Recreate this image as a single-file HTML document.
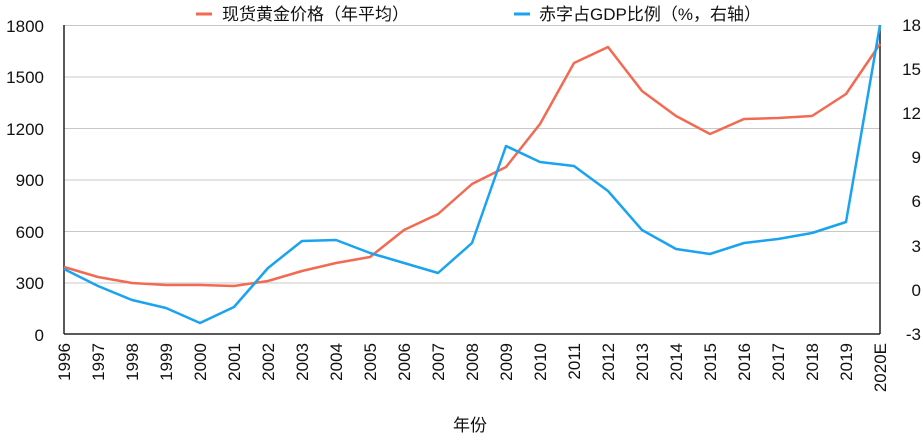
<!DOCTYPE html>
<html><head><meta charset="utf-8"><style>body{margin:0;background:#fff}svg{display:block}text{font-family:"Liberation Sans","Noto Sans CJK SC",sans-serif;fill:#111}</style></head><body>
<svg width="923" height="440" xmlns="http://www.w3.org/2000/svg">
<g stroke="#c8c8c8" stroke-width="1">
<line x1="64" y1="25.5" x2="880" y2="25.5"/><line x1="64" y1="77" x2="880" y2="77"/><line x1="64" y1="128.5" x2="880" y2="128.5"/><line x1="64" y1="180" x2="880" y2="180"/><line x1="64" y1="231.5" x2="880" y2="231.5"/><line x1="64" y1="283" x2="880" y2="283"/>
</g>
<line x1="64" y1="25" x2="64" y2="334" stroke="#222" stroke-width="1.5"/>
<line x1="880" y1="25" x2="880" y2="334" stroke="#222" stroke-width="1.5"/>
<line x1="64" y1="334" x2="880" y2="334" stroke="#222" stroke-width="1.5"/>
<g font-size="17" text-anchor="end">
<text x="44" y="32">1800</text><text x="44" y="83">1500</text><text x="44" y="135">1200</text><text x="44" y="186">900</text><text x="44" y="238">600</text><text x="44" y="289">300</text><text x="44" y="341">0</text>
</g>
<g font-size="17" text-anchor="end">
<text x="921" y="31">18</text><text x="921" y="75">15</text><text x="921" y="119">12</text><text x="921" y="163">9</text><text x="921" y="207">6</text><text x="921" y="252">3</text><text x="921" y="296">0</text><text x="921" y="340">-3</text>
</g>
<g font-size="17" text-anchor="end">
<text transform="translate(70,343) rotate(-90)">1996</text><text transform="translate(104,343) rotate(-90)">1997</text><text transform="translate(138,343) rotate(-90)">1998</text><text transform="translate(172,343) rotate(-90)">1999</text><text transform="translate(206,343) rotate(-90)">2000</text><text transform="translate(240,343) rotate(-90)">2001</text><text transform="translate(274,343) rotate(-90)">2002</text><text transform="translate(308,343) rotate(-90)">2003</text><text transform="translate(342,343) rotate(-90)">2004</text><text transform="translate(376,343) rotate(-90)">2005</text><text transform="translate(410,343) rotate(-90)">2006</text><text transform="translate(444,343) rotate(-90)">2007</text><text transform="translate(478,343) rotate(-90)">2008</text><text transform="translate(512,343) rotate(-90)">2009</text><text transform="translate(546,343) rotate(-90)">2010</text><text transform="translate(580,343) rotate(-90)">2011</text><text transform="translate(614,343) rotate(-90)">2012</text><text transform="translate(648,343) rotate(-90)">2013</text><text transform="translate(682,343) rotate(-90)">2014</text><text transform="translate(716,343) rotate(-90)">2015</text><text transform="translate(750,343) rotate(-90)">2016</text><text transform="translate(784,343) rotate(-90)">2017</text><text transform="translate(818,343) rotate(-90)">2018</text><text transform="translate(852,343) rotate(-90)">2019</text><text transform="translate(886,343) rotate(-90)">2020E</text>
</g>
<text x="470" y="431" font-size="17" text-anchor="middle">年份</text>
<polyline fill="none" stroke="#f26a52" stroke-width="2.5" stroke-linejoin="round" points="64,267 98,277 132,283 166,285 200,285 234,286 268,281 302,271 336,263 370,257 404,230 438,214 472,184 506,167 540,124 574,63 608,47 642,91 676,116 710,134 744,119 778,118 812,116 846,94 880,44"/>
<polyline fill="none" stroke="#1aa3f0" stroke-width="2.5" stroke-linejoin="round" points="64,269 98,286 132,300 166,308 200,323 234,307 268,268 302,241 336,240 370,253 404,263 438,273 472,243 506,146 540,162 574,166 608,191 642,230 676,249 710,254 744,243 778,239 812,233 846,222 880,25"/>
<line x1="196" y1="14" x2="212" y2="14" stroke="#f26a52" stroke-width="3"/>
<text x="222" y="20" font-size="17">现货黄金价格（年平均）</text>
<line x1="514" y1="14" x2="530" y2="14" stroke="#1aa3f0" stroke-width="3"/>
<text x="539" y="20" font-size="17">赤字占GDP比例（%，右轴）</text>
</svg>
</body></html>
